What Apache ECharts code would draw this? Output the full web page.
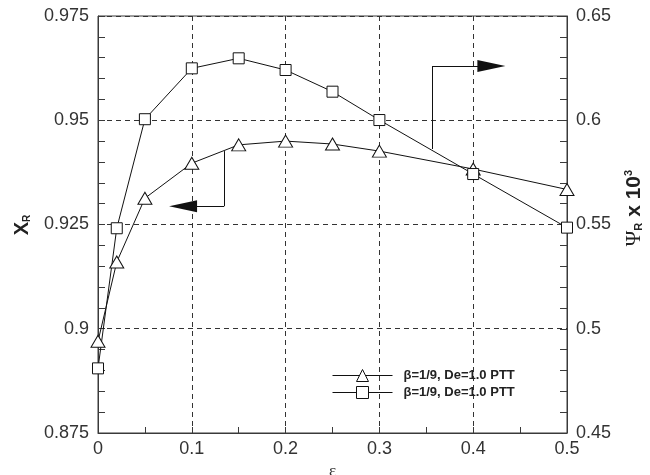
<!DOCTYPE html>
<html>
<head>
<meta charset="utf-8">
<script src="https://cdn.jsdelivr.net/npm/echarts@6/dist/echarts.min.js"></script>
<style>html,body{margin:0;padding:0;background:#fff;}#c{width:650px;height:475px;}</style>
</head>
<body>
<div id="c"></div>
<script>
// ---- data ----
var epsilon = [0, 0.02, 0.05, 0.1, 0.15, 0.2, 0.25, 0.3, 0.4, 0.5];
var xR = [0.897, 0.916, 0.9313, 0.9397, 0.9441, 0.945, 0.9443, 0.9426, 0.9383, 0.9334];
var psiR = [0.481, 0.5482, 0.6005, 0.6249, 0.6297, 0.6241, 0.6137, 0.6001, 0.5742, 0.5485];
var seriesNames = ['\u03b2=1/9, De=1.0 PTT', '\u03b2=1/9, De=1.0 PTT\u00a0'];
var xTicks = [0, 0.1, 0.2, 0.3, 0.4, 0.5];
var leftTicks = [0.875, 0.9, 0.925, 0.95, 0.975];
var rightTicks = [0.45, 0.5, 0.55, 0.6, 0.65];
// arrow annotations (data coordinates)
var leftArrow = {x0: 0.1345, yStart: 0.9426, yEnd: 0.9294, xTip: 0.0907};
var rightArrow = {x0: 0.3565, yStart: 0.5862, yEnd: 0.626, xTip: 0.4194};

function pairs(xs, ys) { return xs.map(function (x, i) { return [x, ys[i]]; }); }
function fmt(v) { return String(+v.toFixed(4)); }

var chart = echarts.init(document.getElementById('c'), null, {renderer: 'canvas'});
var axisCol = '#3a3a3a';
var txtCol = '#333';
var font = 'Liberation Sans, Arial, sans-serif';
var dashed = {color: '#333', width: 1, type: [5, 4]};

function yAxisDef(ticks, showSplit) {
  return {
    type: 'value', min: ticks[0], max: ticks[ticks.length - 1], interval: ticks[1] - ticks[0],
    axisLine: {show: true, lineStyle: {color: axisCol, width: 1}},
    axisTick: {show: true, inside: true, length: 7, lineStyle: {color: axisCol}},
    minorTick: {show: true, splitNumber: 5, length: 7, lineStyle: {color: axisCol}},
    axisLabel: {color: txtCol, fontSize: 18, fontFamily: font, margin: 9, formatter: fmt},
    splitLine: {show: showSplit, lineStyle: dashed},
    minorSplitLine: {show: false}
  };
}

var symStyle = {color: '#fff', borderColor: '#111', borderWidth: 1};
var lineStyle = {color: '#111', width: 1};
var annStyle = {color: '#111', width: 1, type: 'solid'};

var option = {
  animation: false,
  backgroundColor: '#fff',
  grid: {left: 98, right: 83, top: 16, bottom: 42, show: true, borderColor: axisCol, borderWidth: 1,
         backgroundColor: 'transparent', containLabel: false, outerBoundsMode: 'none'},
  xAxis: {
    type: 'value', min: xTicks[0], max: xTicks[xTicks.length - 1], interval: xTicks[1] - xTicks[0],
    name: '\u03b5', nameLocation: 'middle', nameGap: 27,
    nameTextStyle: {fontFamily: 'Liberation Serif, DejaVu Serif, serif', fontSize: 17, color: txtCol},
    axisLine: {show: true, onZero: false, lineStyle: {color: axisCol, width: 1}},
    axisTick: {show: true, inside: true, length: 6, lineStyle: {color: axisCol}},
    minorTick: {show: true, splitNumber: 2, length: 6, lineStyle: {color: axisCol}},
    axisLabel: {color: txtCol, fontSize: 18, fontFamily: font, margin: 7, formatter: fmt},
    splitLine: {show: true, lineStyle: dashed}
  },
  yAxis: [yAxisDef(leftTicks, true), yAxisDef(rightTicks, false)],
  legend: {
    orient: 'vertical', left: 332, top: 369, padding: 0, itemWidth: 60, itemHeight: 15, itemGap: 4,
    itemStyle: {borderWidth: 1, color: '#fff', borderColor: '#111'},
    lineStyle: {width: 1, color: '#111'},
    textStyle: {fontFamily: font, fontWeight: 'bold', fontSize: 13, color: '#222', padding: [0, 0, 0, 6]},
    data: seriesNames
  },
  series: [
    {
      name: seriesNames[0], type: 'line', yAxisIndex: 0, data: pairs(epsilon, xR),
      symbol: 'triangle', symbolSize: [14, 12], clip: false,
      itemStyle: symStyle, lineStyle: lineStyle
    },
    {
      name: seriesNames[1], type: 'line', yAxisIndex: 1, data: pairs(epsilon, psiR),
      symbol: 'rect', symbolSize: 11, clip: false,
      itemStyle: symStyle, lineStyle: lineStyle
    },
    {
      type: 'line', yAxisIndex: 0, data: [], silent: true,
      markLine: {
        silent: true, animation: false, label: {show: false}, lineStyle: annStyle,
        symbol: ['none', 'none'],
        data: [
          [{coord: [leftArrow.x0, leftArrow.yStart]}, {coord: [leftArrow.x0, leftArrow.yEnd]}],
          [{coord: [leftArrow.x0, leftArrow.yEnd], symbol: 'none'}, {coord: [leftArrow.xTip, leftArrow.yEnd], symbol: 'triangle', symbolSize: [12, 28]}]
        ]
      }
    },
    {
      type: 'line', yAxisIndex: 1, data: [], silent: true,
      markLine: {
        silent: true, animation: false, label: {show: false}, lineStyle: annStyle,
        symbol: ['none', 'none'],
        data: [
          [{coord: [rightArrow.x0, rightArrow.yStart]}, {coord: [rightArrow.x0, rightArrow.yEnd]}],
          [{coord: [rightArrow.x0, rightArrow.yEnd], symbol: 'none'}, {coord: [rightArrow.xTip, rightArrow.yEnd], symbol: 'triangle', symbolSize: [12, 28]}]
        ]
      }
    }
  ],
  graphic: [
    {
      type: 'text', x: 22, y: 225, rotation: Math.PI / 2,
      style: {
        text: '{a|X}{b|R}', align: 'center', verticalAlign: 'middle',
        rich: {
          a: {fontFamily: font, fontWeight: 'bold', fontSize: 20, fill: '#222', verticalAlign: 'middle'},
          b: {fontFamily: font, fontWeight: 'bold', fontSize: 10, fill: '#222', verticalAlign: 'bottom'}
        }
      }
    },
    {
      type: 'text', x: 634, y: 208, rotation: Math.PI / 2,
      style: {
        text: '{p|\u03a8}{s|R}{a| x 10}{t|3}', align: 'center', verticalAlign: 'middle',
        rich: {
          p: {fontFamily: 'Liberation Serif, DejaVu Serif, serif', fontSize: 21, fill: '#222', verticalAlign: 'middle'},
          s: {fontFamily: font, fontWeight: 'bold', fontSize: 11, fill: '#222', verticalAlign: 'bottom'},
          a: {fontFamily: font, fontWeight: 'bold', fontSize: 21, fill: '#222', verticalAlign: 'middle'},
          t: {fontFamily: font, fontWeight: 'bold', fontSize: 11, fill: '#222', verticalAlign: 'top'}
        }
      }
    }
  ]
};
chart.setOption(option);
</script>
</body>
</html>
